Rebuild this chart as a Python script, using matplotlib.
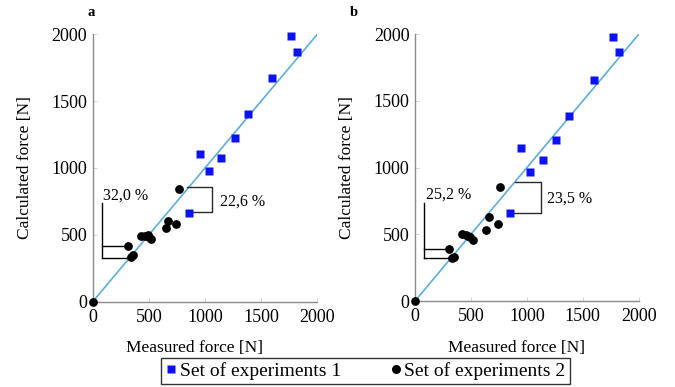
import matplotlib
matplotlib.use('Agg')
import matplotlib.pyplot as plt
from matplotlib.lines import Line2D

plt.rcParams['font.family'] = ['Liberation Serif', 'DejaVu Serif']

# ---- data ----
ticks = [0, 500, 1000, 1500, 2000]
tick_labels = ['0', '500', '1000', '1500', '2000']

set1_a_x = [1768, 1821, 1596, 1385, 1264, 955, 1142, 1032, 860]
set1_a_y = [1990, 1868, 1673, 1404, 1224, 1103, 1075, 980, 666]
set2_a_x = [0, 768, 667, 650, 744, 430, 465, 495, 504, 519, 314, 338, 361]
set2_a_y = [0, 841, 606, 551, 583, 494, 491, 497, 482, 471, 419, 337, 347]

set1_b_x = [1767, 1824, 1600, 1380, 1258, 950, 1141, 1031, 852]
set1_b_y = [1982, 1865, 1657, 1390, 1210, 1147, 1060, 967, 658]
set2_b_x = [0, 760, 659, 635, 739, 417, 453, 477, 492, 516, 304, 328, 349]
set2_b_y = [0, 857, 630, 535, 580, 502, 497, 490, 482, 457, 392, 322, 332]

# bracket annotations
brk_a_left = dict(xv=83, y_hi=419, x_hi=314, y_lo=325, x_lo=338, y_top=736, text='32,0 %', tx=92, ty=791)
brk_a_right = dict(x_top=836, x_bot=860, xv=1065, y_top=860, y_bot=673, text='22,6 %', tx=1133, ty=748)
brk_b_left = dict(xv=83, y_hi=392, x_hi=304, y_lo=320, x_lo=325, y_top=733, text='25,2 %', tx=98, ty=795)
brk_b_right = dict(x_top=894, x_bot=852, xv=1124, y_top=895, y_bot=662, text='23,5 %', tx=1180, ty=765)

W, H = 675, 387
fig = plt.figure(figsize=(W / 100, H / 100), dpi=100)


def make_axes(left_px, right_px, top_px, bottom_px):
    return fig.add_axes([left_px / W, 1 - bottom_px / H,
                         (right_px - left_px) / W, (bottom_px - top_px) / H])


def draw_panel(ax, s1x, s1y, s2x, s2y, bl, br, letter, letter_px):
    ax.plot([0, 2000], [0, 2000], color='#5aaee0', lw=1.2, zorder=2)
    ax.plot(s1x, s1y, 's', color='#0a12f5', ms=5.2, mec='none', zorder=3, clip_on=False)
    ax.plot(s2x, s2y, 'o', color='black', ms=6.3, mec='none', zorder=3, clip_on=False)

    # left bracket
    ax.plot([bl['xv'], bl['xv']], [bl['y_lo'], bl['y_top']], color='black', lw=1.0)
    ax.plot([bl['xv'], bl['x_hi']], [bl['y_hi'], bl['y_hi']], color='black', lw=1.0)
    ax.plot([bl['xv'], bl['x_lo']], [bl['y_lo'], bl['y_lo']], color='black', lw=1.0)
    ax.text(bl['tx'], bl['ty'], bl['text'], fontsize=11.5, ha='left', va='center')

    # right bracket
    c = '#2a2a2a'
    ax.plot([br['x_top'], br['xv'], br['xv'], br['x_bot']],
            [br['y_top'], br['y_top'], br['y_bot'], br['y_bot']], color=c, lw=1.0)
    ax.text(br['tx'], br['ty'], br['text'], fontsize=11.5, ha='left', va='center')

    ax.set_xlim(0, 2000)
    ax.set_ylim(0, 2000)
    ax.set_xticks(ticks)
    ax.set_xticklabels(tick_labels)
    ax.set_yticks(ticks)
    ax.set_yticklabels(tick_labels)
    for s in ['top', 'right']:
        ax.spines[s].set_visible(False)
    for s in ['left', 'bottom']:
        ax.spines[s].set_color('#8a8a8a')
        ax.spines[s].set_linewidth(1.0)
    ax.tick_params(direction='in', length=3, width=0.6, color='#cfcfcf',
                   labelsize=13, pad=4)
    ax.tick_params(axis='x', pad=5)
    ax.set_xlabel('Measured force [N]', fontsize=12.5)
    ax.set_ylabel('Calculated force [N]', fontsize=12.5)
    ax.xaxis.set_label_coords(0.455, -0.145)
    ax.yaxis.set_label_coords(-0.266, 0.5)
    ax.set_facecolor('none')
    fig.text(letter_px / W, 1 - 13 / H, letter, fontsize=10.5, fontweight='bold',
             ha='left', va='center')


ax_a = make_axes(92.7, 317.3, 34.3, 301.7)
ax_b = make_axes(415.0, 638.7, 34.3, 301.0)

draw_panel(ax_a, set1_a_x, set1_a_y, set2_a_x, set2_a_y, brk_a_left, brk_a_right, 'a', 87)
draw_panel(ax_b, set1_b_x, set1_b_y, set2_b_x, set2_b_y, brk_b_left, brk_b_right, 'b', 350)

handles = [Line2D([], [], marker='s', color='#0a12f5', ls='none', ms=6, mec='none'),
           Line2D([], [], marker='o', color='black', ls='none', ms=6.5, mec='none')]
leg = fig.legend(handles, ['Set of experiments 1', 'Set of experiments 2'],
                 loc='center', bbox_to_anchor=(365.5 / W, 1 - 371 / H),
                 ncol=2, frameon=True, fancybox=False, fontsize=14,
                 handlelength=0.6, handletextpad=0.15, columnspacing=2.5,
                 borderpad=0.22, borderaxespad=0)
leg.get_frame().set_edgecolor('black')
leg.get_frame().set_linewidth(1.0)

fig.savefig('out.png', dpi=100, facecolor='white')
